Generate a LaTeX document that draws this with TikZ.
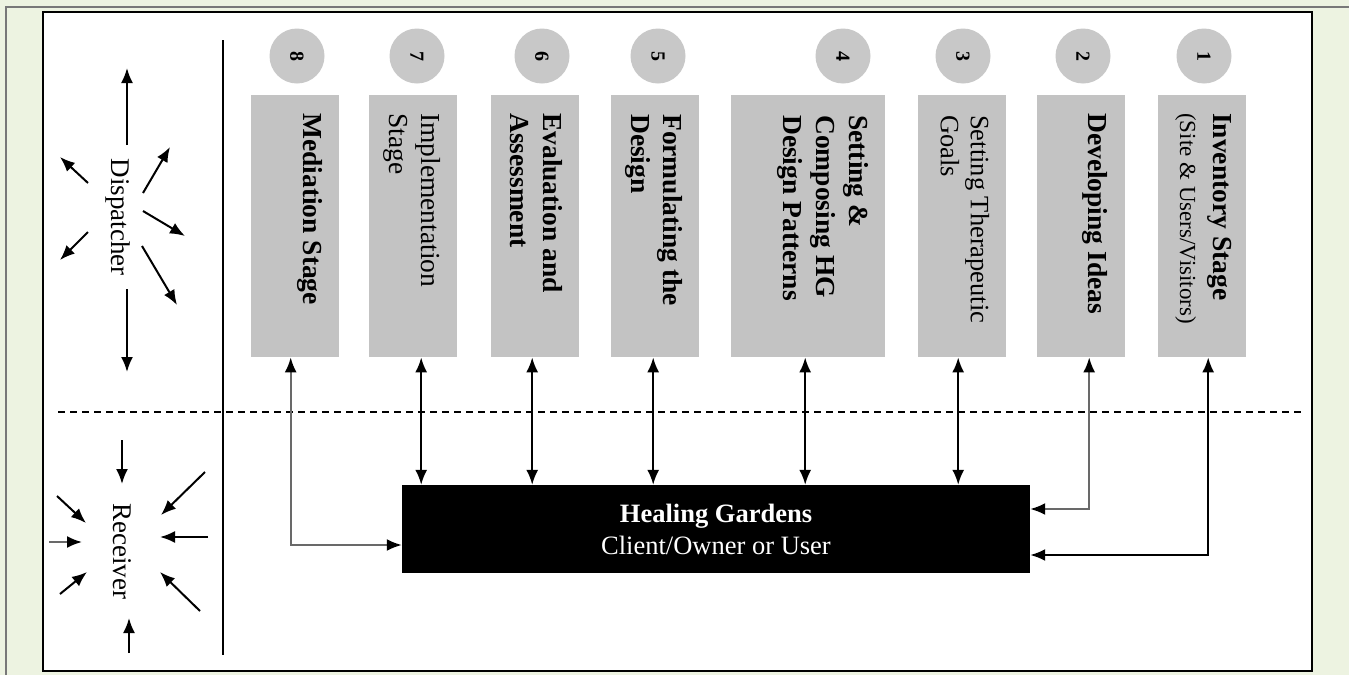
\documentclass[tikz,border=0pt]{standalone}
\usepackage{fontspec}
\setmainfont{Liberation Serif}
\usepackage[dvipsnames]{xcolor}
\usetikzlibrary{arrows.meta}

\definecolor{panelgreen}{RGB}{237,243,225}
\definecolor{framegray}{RGB}{120,120,120}
\definecolor{stagegray}{RGB}{195,195,195}
\definecolor{numgray}{RGB}{200,200,200}
\definecolor{linkgray}{RGB}{105,105,105}

\begin{document}
\begin{tikzpicture}[x=1pt, y=-1pt,
    stagebox/.style={fill=stagegray, minimum width=88pt, minimum height=262pt, anchor=north west, inner sep=0pt},
    stagetext/.style={rotate=-90, anchor=north west, align=left, inner sep=0pt, font=\fontsize{27.5}{33}\selectfont\bfseries},
    stagenum/.style={circle, fill=numgray, minimum size=55pt, inner sep=0pt, rotate=-90, font=\fontsize{20}{24}\selectfont\bfseries},
    hgbox/.style={fill=black, text=white, minimum width=628pt, minimum height=88pt, align=center, font=\fontsize{26.5}{32}\selectfont},
    sidetext/.style={rotate=-90, inner sep=0pt, font=\fontsize{27}{32}\selectfont},
    biarrow/.style={line width=2pt, {Latex[length=15pt,width=12pt,color=black]}-{Latex[length=15pt,width=12pt,color=black]}},
    radarrow/.style={line width=2pt, -{Latex[length=15pt,width=12pt,color=black]}}]
    \useasboundingbox (0,0) rectangle (1349,675);

    % Rahmen
    \fill[panelgreen] (0,0) rectangle (1349,675);
    \draw[framegray, line width=2pt] (6,675) -- (6,7) -- (1349,7);
    \draw[fill=white, line width=2pt] (43,12) rectangle (1312,671);

    % Trennlinien
    \draw[line width=1.6pt] (223,40) -- (223,655);
    \draw[dashed, line width=1.6pt, dash pattern=on 7pt off 5pt] (58,412) -- (1305,412);

    % Stufen
    \node[stagebox] (b8) at (251,95) {};
    \node[stagebox] (b7) at (369,95) {};
    \node[stagebox] (b6) at (491,95) {};
    \node[stagebox] (b5) at (611,95) {};
    \node[stagebox, minimum width=154pt] (b4) at (731,95) {};
    \node[stagebox] (b3) at (918,95) {};
    \node[stagebox] (b2) at (1037,95) {};
    \node[stagebox] (b1) at (1158,95) {};

    \node[stagetext] (t8) at ([xshift=-17pt,yshift=-18pt]b8.north east) {Mediation Stage};
    \node[stagetext, font=\fontsize{27.5}{32}\selectfont] (t7) at ([xshift=-17pt,yshift=-18pt]b7.north east) {Implementation\\Stage};
    \node[stagetext] (t6) at ([xshift=-17pt,yshift=-18pt]b6.north east) {Evaluation and\\Assessment};
    \node[stagetext, font=\fontsize{27.5}{32}\selectfont\bfseries] (t5) at ([xshift=-17pt,yshift=-19pt]b5.north east) {Formulating the\\Design};
    \node[stagetext] (t4) at ([xshift=-17pt,yshift=-20pt]b4.north east) {Setting \&\\Composing HG\\Design Patterns};
    \node[stagetext, font=\fontsize{26.5}{30}\selectfont] (t3) at ([xshift=-17pt,yshift=-20pt]b3.north east) {Setting Therapeutic\\Goals};
    \node[stagetext] (t2) at ([xshift=-18pt,yshift=-18pt]b2.north east) {Developing Ideas};
    \node[stagetext] (t1) at ([xshift=-15pt,yshift=-18pt]b1.north east) {Inventory Stage\\{\mdseries\fontsize{23}{32}\selectfont (Site \& Users/Visitors)}};

    % Nummern
    \node[stagenum] (n8) at (297,56) {8};
    \node[stagenum] (n7) at (417,56) {7};
    \node[stagenum] (n6) at (542,56) {6};
    \node[stagenum] (n5) at (658,56) {5};
    \node[stagenum] (n4) at (843,56) {4};
    \node[stagenum] (n3) at (963,56) {3};
    \node[stagenum] (n2) at (1083,56) {2};
    \node[stagenum] (n1) at (1204,56) {1};

    % Healing Gardens
    \node[hgbox] (hg) at (716,529) {\textbf{Healing Gardens}\\Client/Owner or User};

    % Verbindungen
    \draw[biarrow, linkgray] ([xshift=-4.5pt]b8.south) |- ([yshift=-16pt]hg.west);
    \draw[biarrow] ([xshift=8pt]b7.south) -- ([xshift=8pt]b7.south |- hg.north);
    \draw[biarrow] ([xshift=-3pt]b6.south) -- ([xshift=-3pt]b6.south |- hg.north);
    \draw[biarrow] ([xshift=-2pt]b5.south) -- ([xshift=-2pt]b5.south |- hg.north);
    \draw[biarrow] ([xshift=-3pt]b4.south) -- ([xshift=-3pt]b4.south |- hg.north);
    \draw[biarrow] ([xshift=-4pt]b3.south) -- ([xshift=-4pt]b3.south |- hg.north);
    \draw[biarrow, linkgray] ([xshift=8pt]b2.south) |- ([yshift=20pt]hg.east);
    \draw[biarrow] ([xshift=6pt]b1.south) |- ([yshift=-26pt]hg.east);

    % Dispatcher
    \node[sidetext] (disp) at (118,217) {Dispatcher};
    \draw[radarrow] (127,145) -- (127,68);
    \draw[radarrow] (127,289) -- (127,372);
    \draw[radarrow] (88,183) -- (60,157);
    \draw[radarrow] (88,232) -- (60,260);
    \draw[radarrow] (143,193) -- (170,147);
    \draw[radarrow] (143,211) -- (185,236);
    \draw[radarrow] (142,246) -- (177,305);

    % Receiver
    \node[sidetext] (recv) at (122,551) {Receiver};
    \draw[radarrow] (122,440) -- (122,484);
    \draw[radarrow] (129,653) -- (129,618);
    \draw[radarrow] (57,496) -- (86,523);
    \draw[radarrow, linkgray] (49,542) -- (82,542);
    \draw[radarrow] (60,594) -- (87,572);
    \draw[radarrow] (205,472) -- (161,515);
    \draw[radarrow] (208,537) -- (160,537);
    \draw[radarrow] (200,611) -- (160,572);
\end{tikzpicture}
\end{document}
